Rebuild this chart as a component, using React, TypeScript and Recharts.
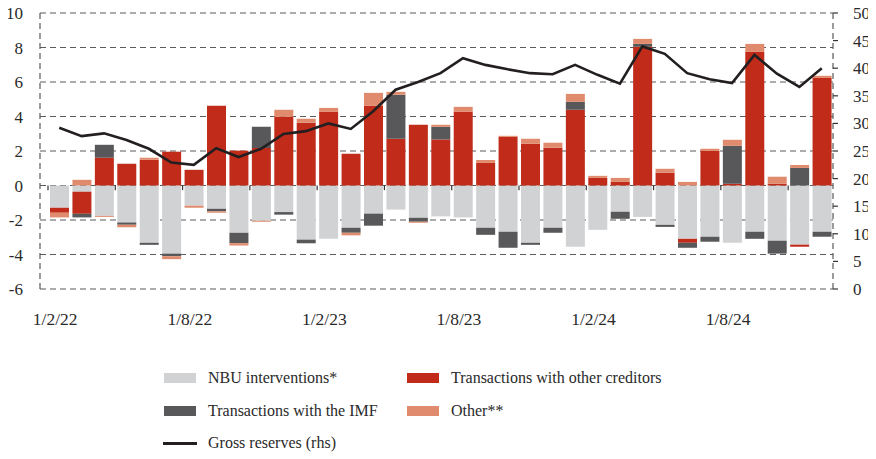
import React from 'react';
import {
  ComposedChart,
  Bar,
  Line,
  XAxis,
  YAxis,
  CartesianGrid,
  ReferenceLine,
  Legend,
} from 'recharts';

const categories = [
  '1/2/22', '1/3/22', '1/4/22', '1/5/22', '1/6/22', '1/7/22', '1/8/22', '1/9/22', '1/10/22', '1/11/22', '1/12/22',
  '1/1/23', '1/2/23', '1/3/23', '1/4/23', '1/5/23', '1/6/23', '1/7/23', '1/8/23', '1/9/23', '1/10/23', '1/11/23', '1/12/23',
  '1/1/24', '1/2/24', '1/3/24', '1/4/24', '1/5/24', '1/6/24', '1/7/24', '1/8/24', '1/9/24', '1/10/24', '1/11/24', '1/12/24',
];

const tickLabels = ['1/2/22', '1/8/22', '1/2/23', '1/8/23', '1/2/24', '1/8/24'];
const quarterMarks = [
  '1/2/22', '1/5/22', '1/8/22', '1/11/22', '1/2/23', '1/5/23', '1/8/23', '1/11/23', '1/2/24', '1/5/24', '1/8/24', '1/11/24',
];

const nbuInterventions = [
  -1.29, -0.36, -1.76, -2.15, -3.32, -3.95, -1.17, -1.35, -2.74, -2.04, -1.54,
  -3.14, -3.08, -2.45, -1.63, -1.4, -1.87, -1.79, -1.85, -2.45, -2.68, -3.32, -2.45,
  -3.55, -2.57, -1.52, -1.82, -2.28, -3.09, -2.97, -3.32, -2.68, -3.2, -3.43, -2.68,
];

const otherCreditors = [
  -0.29, -1.28, 1.61, 1.26, 1.49, 1.96, 0.91, 4.63, 2.02, 2.17, 3.98,
  3.64, 4.27, 1.84, 4.62, 2.71, 3.52, 2.67, 4.27, 1.31, 2.82, 2.42, 2.19,
  4.39, 0.44, 0.21, 8.04, 0.74, -0.23, 2.01, 0.1, 7.75, 0.1, -0.12, 6.24,
];

const imfTransactions = [
  0, -0.21, 0.75, -0.12, -0.12, -0.15, 0, -0.15, -0.6, 1.24, -0.15,
  -0.21, 0, -0.29, -0.7, 2.55, -0.23, 0.73, 0, -0.41, -0.93, -0.12, -0.29,
  0.46, 0, -0.41, 0.17, -0.12, -0.29, -0.29, 2.2, -0.41, -0.75, 1.02, -0.29,
];

const otherFlows = [
  -0.27, 0.33, -0.06, -0.15, 0.12, -0.17, -0.12, -0.08, -0.14, -0.06, 0.41,
  0.23, 0.23, -0.15, 0.75, 0.17, -0.06, 0.12, 0.29, 0.17, 0.06, 0.29, 0.29,
  0.46, 0.12, 0.23, 0.29, 0.23, 0.21, 0.12, 0.35, 0.46, 0.41, 0.17, 0.12,
];

const grossReserves = [
  29.2, 27.7, 28.2, 27.0, 25.4, 22.9, 22.5, 25.5, 23.9, 25.4, 28.1,
  28.6, 30.0, 29.0, 32.2, 36.1, 37.5, 39.1, 41.8, 40.6, 39.8, 39.1, 38.9,
  40.6, 38.8, 37.2, 43.95, 42.6, 39.1, 38.0, 37.3, 42.4, 39.0, 36.6, 40.0,
];

const leftTicks = [-6, -4, -2, 0, 2, 4, 6, 8, 10];
const rightTicks = [0, 5, 10, 15, 20, 25, 30, 35, 40, 45, 50];

const data = categories.map((month, i) => ({
  month,
  nbu: nbuInterventions[i],
  creditors: otherCreditors[i],
  imf: imfTransactions[i],
  other: otherFlows[i],
  reserves: grossReserves[i],
}));

const FONT = "'Liberation Serif', 'Times New Roman', serif";
const C_NBU = '#d1d2d4';
const C_RED = '#c02b1a';
const C_IMF = '#58585a';
const C_OTHER = '#e08b6d';
const C_LINE = '#231f20';
const TEXT = '#2a2a2a';

const XTick = (props: any) => {
  const { x, y, payload } = props;
  if (!tickLabels.includes(payload.value)) return null;
  return (
    <text x={x - 4} y={y + 36} textAnchor="middle" fill={TEXT} fontSize={17.5} fontFamily={FONT}>
      {payload.value}
    </text>
  );
};

const legendItems = [
  { label: 'NBU interventions*', color: C_NBU, type: 'rect', left: 160, cy: 48.5 },
  { label: 'Transactions with other creditors', color: C_RED, type: 'rect', left: 403, cy: 48.5 },
  { label: 'Transactions with the IMF', color: C_IMF, type: 'rect', left: 160, cy: 81.5 },
  { label: 'Other**', color: C_OTHER, type: 'rect', left: 403, cy: 81.5 },
  { label: 'Gross reserves (rhs)', color: C_LINE, type: 'line', left: 160, cy: 114.3 },
];

const renderLegend = () => (
  <div style={{ position: 'relative', width: 872, height: 130, fontFamily: FONT, fontSize: 16, color: TEXT }}>
    {legendItems.map((it) => (
      <div
        key={it.label}
        style={{
          position: 'absolute',
          left: it.left,
          top: it.cy - 10,
          height: 20,
          display: 'flex',
          alignItems: 'center',
          whiteSpace: 'nowrap',
        }}
      >
        {it.type === 'rect' ? (
          <div style={{ width: 32, height: 10, background: it.color }} />
        ) : (
          <div style={{ width: 34, height: 3, marginLeft: -1, marginRight: -1, background: it.color }} />
        )}
        <span style={{ marginLeft: 12, lineHeight: '20px' }}>{it.label}</span>
      </div>
    ))}
  </div>
);

export default function App() {
  return (
    <div style={{ marginTop: -4, marginLeft: -4 }}>
      <ComposedChart
        width={872}
        height={455}
        data={data}
        margin={{ top: 9, right: 0, left: 4, bottom: 0 }}
        stackOffset="sign"
        barSize={19}
      >
        <CartesianGrid yAxisId="left" vertical={false} stroke="#5a5a5a" strokeWidth={1.2} strokeDasharray="6 4" />
        <XAxis
          dataKey="month"
          interval={0}
          axisLine={false}
          tickLine={false}
          tickSize={0}
          tickMargin={0}
          height={40}
          padding={{ left: 8, right: 0 }}
          tick={<XTick />}
        />
        <YAxis
          yAxisId="left"
          domain={[-6, 10]}
          ticks={leftTicks}
          interval={0}
          width={32}
          tickLine={false}
          tickSize={0}
          tickMargin={17}
          axisLine={{ stroke: '#5a5a5a', strokeWidth: 1.2, strokeDasharray: '6 4' }}
          tick={{ fill: TEXT, fontSize: 17, fontFamily: FONT }}
        />
        <YAxis
          yAxisId="right"
          orientation="right"
          domain={[0, 50]}
          ticks={rightTicks}
          interval={0}
          width={43}
          tickSize={5}
          tickMargin={15}
          tickLine={{ stroke: '#333', strokeWidth: 1.2 }}
          axisLine={{ stroke: '#5a5a5a', strokeWidth: 1.2, strokeDasharray: '6 4' }}
          tick={{ fill: TEXT, fontSize: 17, fontFamily: FONT }}
        />
        <Bar yAxisId="left" dataKey="nbu" stackId="a" fill={C_NBU} isAnimationActive={false} />
        <Bar yAxisId="left" dataKey="creditors" stackId="a" fill={C_RED} isAnimationActive={false} />
        <Bar yAxisId="left" dataKey="imf" stackId="a" fill={C_IMF} isAnimationActive={false} />
        <Bar yAxisId="left" dataKey="other" stackId="a" fill={C_OTHER} isAnimationActive={false} />
        {quarterMarks.map((m) => (
          <ReferenceLine
            key={m}
            yAxisId="left"
            position="start"
            segment={[{ x: m, y: 0 }, { x: m, y: -0.27 }]}
            stroke="#333"
            strokeWidth={1.2}
          />
        ))}
        <Line
          yAxisId="right"
          type="linear"
          dataKey="reserves"
          stroke={C_LINE}
          strokeWidth={2.6}
          dot={false}
          activeDot={false}
          isAnimationActive={false}
        />
        <Legend
          verticalAlign="bottom"
          content={renderLegend}
          wrapperStyle={{ left: 0, top: 325, width: 872, height: 130 }}
        />
      </ComposedChart>
    </div>
  );
}
